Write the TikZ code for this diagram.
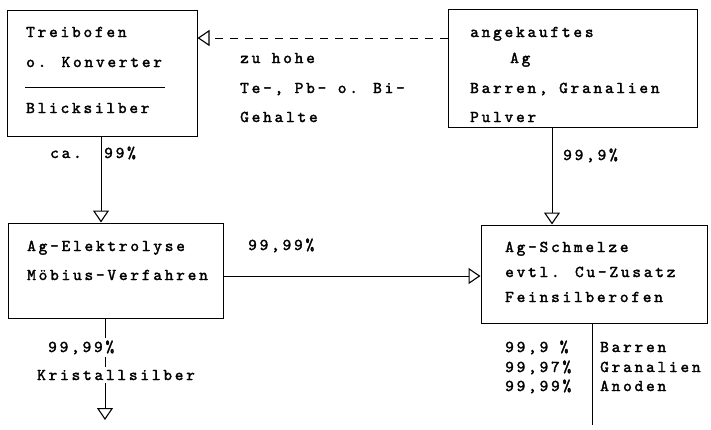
\documentclass[tikz,border=0pt]{standalone}
\usepackage{fontspec}
\newfontfamily\tw[Extension=.otf, LetterSpace=17, FakeBold=2]{lmmono10-regular}
\usetikzlibrary{arrows.meta}
\begin{document}
\begin{tikzpicture}[x=1pt,y=-1pt,
  box/.style={draw, line width=1pt, inner sep=0pt, rectangle},
  lbl/.style={anchor=base west, inner sep=0pt, font=\tw\fontsize{16.5}{16.5}\selectfont},
  cover/.style={lbl, fill=white, inner ysep=3pt},
  conn/.style={line width=1pt},
  tri/.style={-{Triangle[open, length=12pt, width=16pt, line width=1.1pt]}}]
\fill[white] (0,0) rectangle (711,429);
\useasboundingbox (0,0) rectangle (711,429);

% boxes
\node[box, minimum width=190pt, minimum height=126pt] (b1) at (102,73) {};
\node[box, minimum width=215pt, minimum height=95pt] (b2) at (115.5,270.5) {};
\node[box, minimum width=249pt, minimum height=118pt] (b3) at (572.5,68) {};
\node[box, minimum width=226pt, minimum height=98pt] (b4) at (594,274) {};

% box 1 text
\node[lbl] (t11) at (26,37) {Treibofen};
\node[lbl] (t12) at (26,67) {o. Konverter};
\coordinate (r1) at (25,87);
\coordinate (r2) at (165,87);
\draw[conn] (r1) -- (r2);
\node[lbl] (t13) at (26,113) {Blicksilber};

% box 3 text
\node[lbl] (t31) at (470,37) {angekauftes};
\node[lbl] (t32) at (510,63) {Ag};
\node[lbl] (t33) at (470,93) {Barren, Granalien};
\node[lbl] (t34) at (470,122) {Pulver};

% dashed return
\draw[conn, tri, dash pattern=on 8pt off 7pt] ([yshift=30pt]b3.west) -- ([yshift=30pt]b3.west -| b1.east);
\node[lbl] (d1) at (240,63) {zu hohe};
\node[lbl] (d2) at (240,93) {Te-, Pb- o. Bi-};
\node[lbl] (d3) at (240,122) {Gehalte};

% b1 -> b2
\draw[conn, tri] ([xshift=-1pt]b1.south) -- ([xshift=-1pt]b1.south |- b2.north);
\node[lbl] (a1) at (50,158) {ca.};
\node[lbl] (a2) at (104,158) {99\%};

% b3 -> b4
\draw[conn, tri] ([xshift=-20.5pt]b3.south) -- ([xshift=-20.5pt]b3.south |- b4.north);
\node[lbl] (a3) at (563,160) {99,9\%};

% box 2 text
\node[lbl] (t21) at (27,251) {Ag-Elektrolyse};
\node[lbl] (t22) at (27,280) {Möbius-Verfahren};

% b2 -> b4
\draw[conn, tri] ([yshift=-5.5pt]b2.east) -- ([yshift=-5.5pt]b2.east -| b4.west);
\node[lbl] (a4) at (248,250) {99,99\%};

% box 4 text
\node[lbl] (t41) at (505,252) {Ag-Schmelze};
\node[lbl] (t42) at (505,277) {evtl. Cu-Zusatz};
\node[lbl] (t43) at (505,302) {Feinsilberofen};

% b2 down
\coordinate (e4) at (105,420);
\draw[conn, tri] ([xshift=-10.5pt]b2.south) -- (e4);
\node[cover] (k1) at (48,352) {99,99\%};
\node[cover] (k2) at (37,380) {Kristallsilber};

% b4 down
\coordinate (e5) at (592,425);
\draw[conn] ([xshift=-2pt]b4.south) -- (e5);
\node[lbl] (p1) at (505,352) {99,9 \%};
\node[lbl] (p2) at (505,372) {99,97\%};
\node[lbl] (p3) at (505,391) {99,99\%};
\node[lbl] (q1) at (600,352) {Barren};
\node[lbl] (q2) at (600,372) {Granalien};
\node[lbl] (q3) at (600,391) {Anoden};
\end{tikzpicture}
\end{document}
